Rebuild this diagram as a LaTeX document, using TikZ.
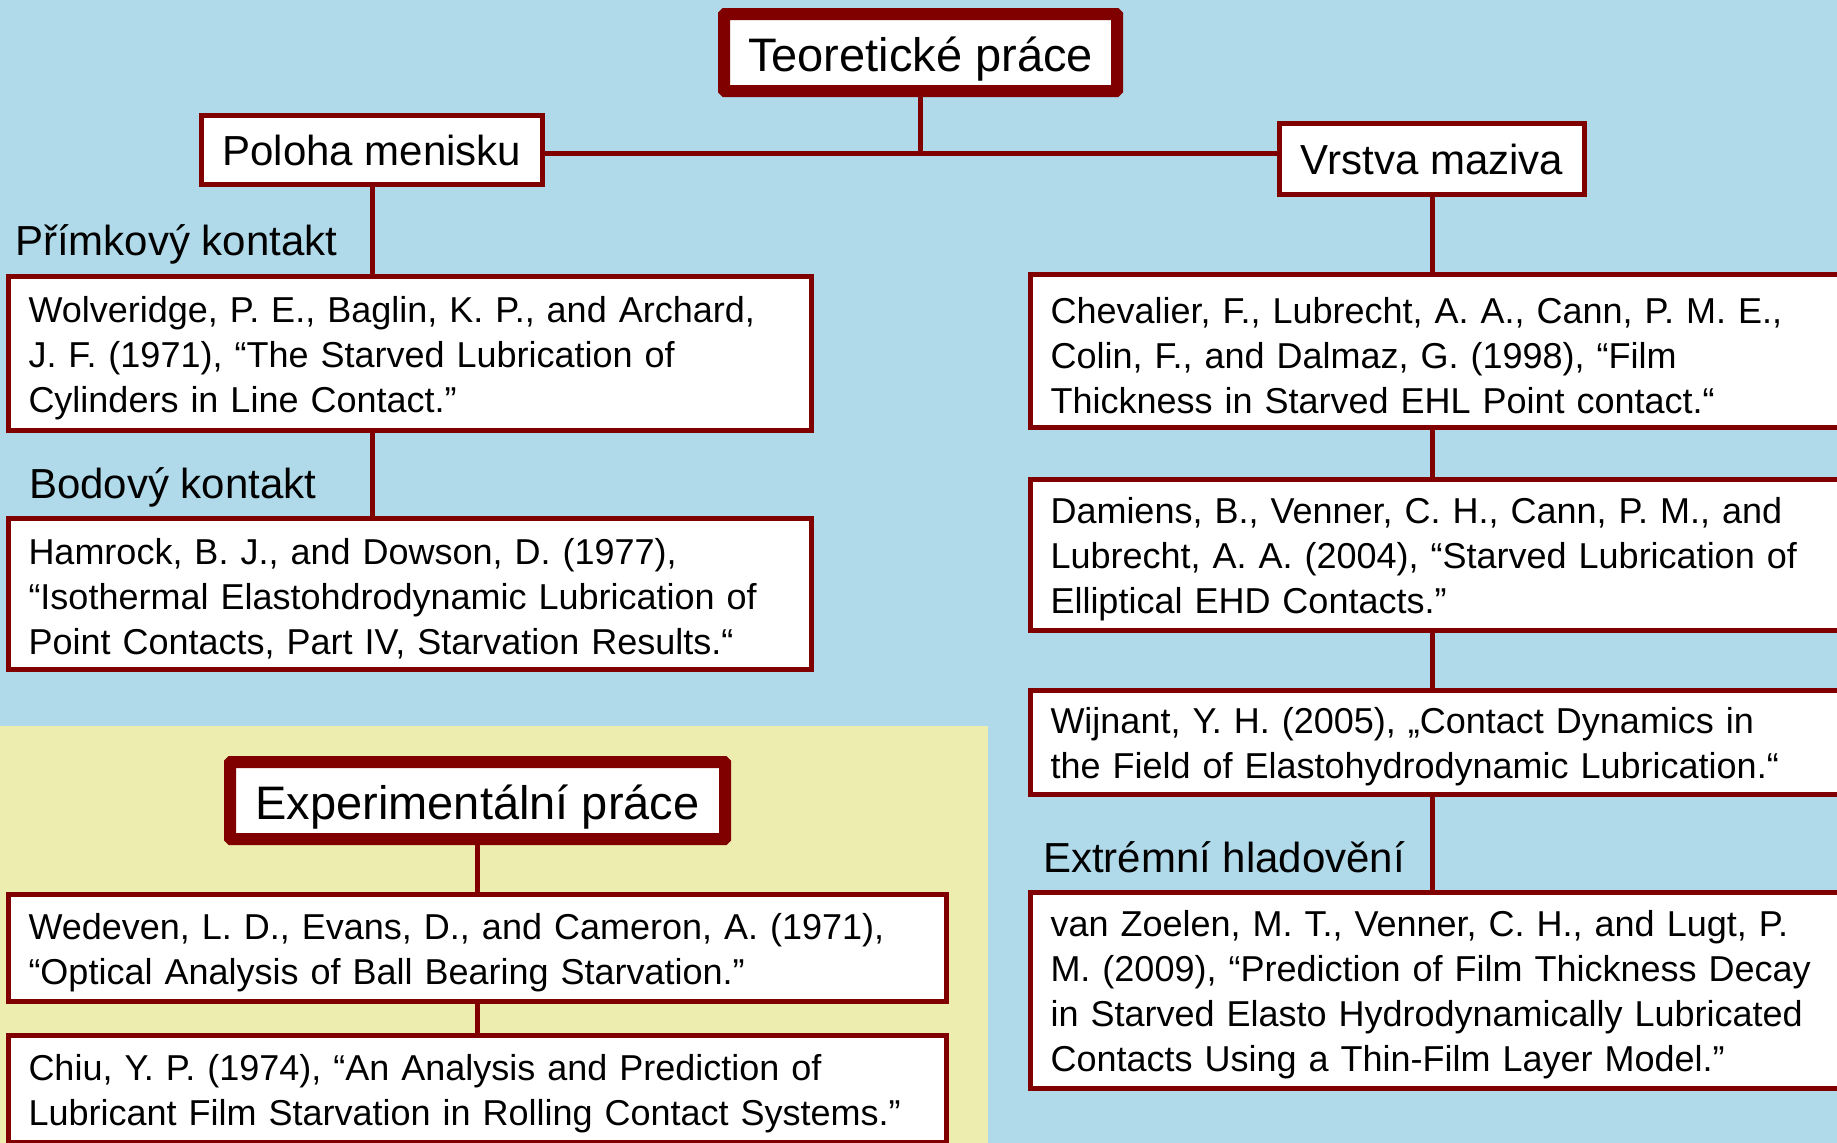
\documentclass[tikz,border=0pt]{standalone}
\usepackage{fontspec}
\setmainfont{Liberation Sans}
\usetikzlibrary{positioning}
\definecolor{skyback}{HTML}{B0DAEA}
\definecolor{paleback}{HTML}{EEEDB0}
\definecolor{maroonline}{HTML}{800000}

\begin{document}
\begin{tikzpicture}[x=1pt, y=-1pt,
    mainbox/.style={draw=maroonline, line width=12pt, rounded corners=1pt, fill=white,
      inner sep=0pt, text height=37pt, text depth=0pt, font=\fontsize{47}{56}\selectfont},
    topicbox/.style={draw=maroonline, line width=5pt, fill=white,
      inner sep=0pt, text height=30pt, text depth=0pt, font=\fontsize{42}{50}\selectfont},
    refbox/.style={draw=maroonline, line width=5pt, fill=white, anchor=north west, outer sep=0pt,
      align=left, inner xsep=20pt, inner ysep=0pt, font=\fontsize{36}{45}\selectfont,
      execute at begin node={\vrule height 35pt width 0pt}},
    sublabel/.style={anchor=base west, inner sep=0pt, font=\fontsize{42}{50}\selectfont},
    link/.style={draw=maroonline, line width=5pt}]

    % Background
    \useasboundingbox (0,0) rectangle (1837,1143);
    \clip (0,0) rectangle (1837,1143);
    \fill[skyback] (0,0) rectangle (1837,1143);
    \fill[paleback] (0,726) rectangle (988,1143);

    % Theoretical works
    \node[mainbox, minimum width=393pt, minimum height=77pt] (teo) at (920.5,52.5) {Teoretické práce};
    \node[topicbox, minimum width=341pt, minimum height=69pt] (pol) at (372,150) {Poloha menisku};
    \node[topicbox, minimum width=305pt, minimum height=71pt] (vrs) at (1432,159) {Vrstva maziva};
    \coordinate (hub) at (920.5,153);

    % Left column
    \node[sublabel] (prim) at (15,255) {Přímkový kontakt};
    \node[refbox, text width=762.5pt, minimum height=154pt] (wol) at (8.5,276.5)
      {Wolveridge, P. E., Baglin, K. P., and Archard,\\ J. F. (1971), “The Starved Lubrication of\\ Cylinders in Line Contact.”};
    \node[sublabel] (bod) at (29,498) {Bodový kontakt};
    \node[refbox, text width=762.5pt, minimum height=151pt] (ham) at (8.5,518.5)
      {Hamrock, B. J., and Dowson, D. (1977),\\ “Isothermal Elastohdrodynamic Lubrication of\\ Point Contacts, Part IV, Starvation Results.“};

    % Right column
    \node[refbox, text width=780pt, minimum height=153pt] (che) at (1030.5,274.5)
      {Chevalier, F., Lubrecht, A. A., Cann, P. M. E.,\\ Colin, F., and Dalmaz, G. (1998), “Film\\ Thickness in Starved EHL Point contact.“};
    \node[refbox, text width=780pt, minimum height=151pt] (dam) at (1030.5,479.5)
      {Damiens, B., Venner, C. H., Cann, P. M., and\\ Lubrecht, A. A. (2004), “Starved Lubrication of\\ Elliptical EHD Contacts.”};
    \node[refbox, text width=780pt, minimum height=104pt] (wij) at (1030.5,690.5)
      {Wijnant, Y. H. (2005), „Contact Dynamics in\\ the Field of Elastohydrodynamic Lubrication.“};
    \node[sublabel] (ext) at (1043,872) {Extrémní hladovění};
    \node[refbox, text width=780pt, minimum height=196pt] (zoe) at (1030.5,892.5)
      {van Zoelen, M. T., Venner, C. H., and Lugt, P.\\ M. (2009), “Prediction of Film Thickness Decay\\ in Starved Elasto Hydrodynamically Lubricated\\ Contacts Using a Thin-Film Layer Model.”};

    % Experimental works
    \node[mainbox, minimum width=495pt, minimum height=77pt] (exp) at (477.5,800.5) {Experimentální práce};
    \node[refbox, text width=897.5pt, minimum height=107pt] (wed) at (8.5,894.5)
      {Wedeven, L. D., Evans, D., and Cameron, A. (1971),\\ “Optical Analysis of Ball Bearing Starvation.”};
    \node[refbox, text width=897.5pt, minimum height=107pt] (chiu) at (8.5,1035.5)
      {Chiu, Y. P. (1974), “An Analysis and Prediction of\\ Lubricant Film Starvation in Rolling Contact Systems.”};

    % Connectors
    \draw[link] (teo.south) -- (hub);
    \draw[link] (pol.east |- hub) -- (vrs.west |- hub);
    \draw[link] (pol.south) -- (pol.south |- wol.north);
    \draw[link] (pol.south |- wol.south) -- (pol.south |- ham.north);
    \draw[link] (vrs.south) -- (vrs.south |- che.north);
    \foreach \a/\b in {che/dam, dam/wij, wij/zoe} {
      \draw[link] (vrs.south |- \a.south) -- (vrs.south |- \b.north);
    }
    \draw[link] (exp.south) -- (exp.south |- wed.north);
    \draw[link] (exp.south |- wed.south) -- (exp.south |- chiu.north);

\end{tikzpicture}
\end{document}
